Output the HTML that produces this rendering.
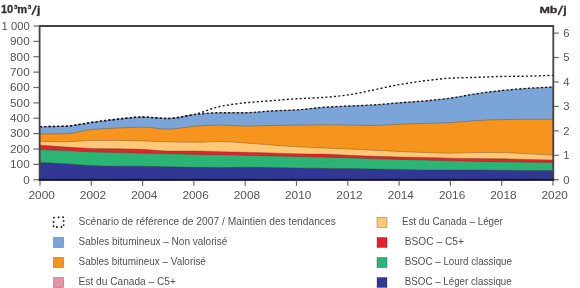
<!DOCTYPE html>
<html><head><meta charset="utf-8"><style>
html,body{margin:0;padding:0;background:#fff;}
body{width:580px;height:288px;overflow:hidden;position:relative;font-family:"Liberation Sans",sans-serif;}
svg{position:absolute;left:0;top:0;will-change:transform;}
.yl{font-size:10.3px;fill:#555;}
.xl{font-size:10.6px;fill:#555;}
.ti{font-size:10.8px;font-weight:bold;fill:#352f2d;stroke:#352f2d;stroke-width:0.3px;}
.lg{font-size:10.3px;fill:#505050;}
</style></head><body>
<svg width="580" height="288" viewBox="0 0 580 288">
<path d="M40.00,126.68 C48.55,126.53 57.10,126.49 65.65,126.22 C74.20,125.94 82.75,123.65 91.30,122.50 C99.85,121.34 108.40,120.11 116.95,119.24 C125.50,118.37 134.05,117.07 142.60,117.07 C151.15,117.07 159.70,118.47 168.25,118.47 C176.80,118.47 185.35,115.43 193.90,114.59 C202.45,113.75 211.00,112.73 219.55,112.73 C228.10,112.73 236.65,112.73 245.20,112.73 C253.75,112.73 262.30,111.47 270.85,111.03 C279.40,110.58 287.95,110.44 296.50,109.94 C305.05,109.44 313.60,108.06 322.15,107.46 C330.70,106.86 339.25,106.47 347.80,106.06 C356.35,105.66 364.90,105.46 373.45,104.98 C382.00,104.50 390.55,103.48 399.10,102.81 C407.65,102.14 416.20,101.69 424.75,100.95 C433.30,100.21 441.85,99.29 450.40,98.16 C458.95,97.03 467.50,95.06 476.05,93.82 C484.60,92.58 493.15,91.43 501.70,90.56 C510.25,89.70 518.80,88.96 527.35,88.39 C535.90,87.83 544.45,87.47 553.00,87.00 L553.00,180 L40.00,180 Z" fill="#7ba5d8" stroke="#4a3a2a" stroke-opacity="0.5" stroke-width="0.7"/>
<path d="M40.00,133.97 C48.55,133.91 57.10,133.91 65.65,133.81 C74.20,133.71 82.75,130.38 91.30,129.62 C99.85,128.87 108.40,128.46 116.95,128.07 C125.50,127.69 134.05,127.15 142.60,127.15 C151.15,127.15 159.70,129.16 168.25,129.16 C176.80,129.16 185.35,126.99 193.90,126.37 C202.45,125.75 211.00,124.97 219.55,124.97 C228.10,124.97 236.65,126.22 245.20,126.22 C253.75,126.22 262.30,125.59 270.85,125.44 C279.40,125.29 287.95,125.23 296.50,125.13 C305.05,125.03 313.60,124.82 322.15,124.82 C330.70,124.82 339.25,124.90 347.80,124.97 C356.35,125.05 364.90,125.44 373.45,125.44 C382.00,125.44 390.55,124.52 399.10,124.20 C407.65,123.88 416.20,123.68 424.75,123.42 C433.30,123.17 441.85,123.02 450.40,122.65 C458.95,122.28 467.50,121.11 476.05,120.63 C484.60,120.16 493.15,119.71 501.70,119.55 C510.25,119.39 518.80,119.24 527.35,119.24 C535.90,119.24 544.45,119.24 553.00,119.24 L553.00,180 L40.00,180 Z" fill="#f7941d" stroke="#4a3a2a" stroke-opacity="0.5" stroke-width="0.7"/>
<path d="M40.00,141.25 C48.55,141.46 57.10,141.87 65.65,141.87 C74.20,141.87 82.75,140.47 91.30,140.47 C99.85,140.47 108.40,140.47 116.95,140.47 C125.50,140.47 134.05,140.73 142.60,140.94 C151.15,141.15 159.70,141.66 168.25,141.87 C176.80,142.08 185.35,142.34 193.90,142.34 C202.45,142.34 211.00,141.56 219.55,141.56 C228.10,141.56 236.65,142.41 245.20,142.95 C253.75,143.50 262.30,144.33 270.85,144.97 C279.40,145.61 287.95,146.37 296.50,146.83 C305.05,147.29 313.60,147.55 322.15,147.91 C330.70,148.28 339.25,148.61 347.80,149.00 C356.35,149.39 364.90,149.83 373.45,150.24 C382.00,150.65 390.55,151.09 399.10,151.48 C407.65,151.87 416.20,152.30 424.75,152.56 C433.30,152.83 441.85,153.19 450.40,153.19 C458.95,153.19 467.50,152.56 476.05,152.56 C484.60,152.56 493.15,152.56 501.70,152.56 C510.25,152.56 518.80,153.39 527.35,153.81 C535.90,154.22 544.45,154.63 553.00,155.05 L553.00,180 L40.00,180 Z" fill="#fdc978" stroke="#4a3a2a" stroke-opacity="0.5" stroke-width="0.7"/>
<path d="M40.00,145.28 C48.55,145.85 57.10,146.47 65.65,146.99 C74.20,147.50 82.75,148.21 91.30,148.38 C99.85,148.55 108.40,148.55 116.95,148.69 C125.50,148.83 134.05,149.01 142.60,149.31 C151.15,149.61 159.70,151.01 168.25,151.01 C176.80,151.01 185.35,151.01 193.90,151.01 C202.45,151.01 211.00,151.43 219.55,151.63 C228.10,151.84 236.65,152.05 245.20,152.25 C253.75,152.46 262.30,152.63 270.85,152.88 C279.40,153.12 287.95,153.65 296.50,153.81 C305.05,153.96 313.60,153.95 322.15,154.12 C330.70,154.28 339.25,154.84 347.80,155.20 C356.35,155.56 364.90,156.02 373.45,156.28 C382.00,156.55 390.55,156.70 399.10,156.91 C407.65,157.11 416.20,157.32 424.75,157.53 C433.30,157.73 441.85,158.01 450.40,158.15 C458.95,158.28 467.50,158.35 476.05,158.46 C484.60,158.56 493.15,158.63 501.70,158.76 C510.25,158.90 518.80,159.18 527.35,159.38 C535.90,159.59 544.45,159.80 553.00,160.00 L553.00,180 L40.00,180 Z" fill="#e8202a" stroke="#4a3a2a" stroke-opacity="0.5" stroke-width="0.7"/>
<path d="M40.00,149.78 C48.55,150.03 57.10,150.22 65.65,150.55 C74.20,150.88 82.75,151.66 91.30,151.94 C99.85,152.23 108.40,152.36 116.95,152.56 C125.50,152.77 134.05,152.98 142.60,153.19 C151.15,153.39 159.70,153.60 168.25,153.81 C176.80,154.01 185.35,154.29 193.90,154.43 C202.45,154.56 211.00,154.60 219.55,154.74 C228.10,154.87 236.65,155.15 245.20,155.35 C253.75,155.56 262.30,155.77 270.85,155.97 C279.40,156.18 287.95,156.39 296.50,156.59 C305.05,156.80 313.60,157.01 322.15,157.22 C330.70,157.42 339.25,157.59 347.80,157.84 C356.35,158.08 364.90,158.52 373.45,158.76 C382.00,159.01 390.55,159.18 399.10,159.38 C407.65,159.59 416.20,159.78 424.75,160.00 C433.30,160.23 441.85,160.55 450.40,160.78 C458.95,161.01 467.50,161.22 476.05,161.40 C484.60,161.58 493.15,161.74 501.70,161.87 C510.25,161.99 518.80,162.07 527.35,162.18 C535.90,162.28 544.45,162.38 553.00,162.49 L553.00,180 L40.00,180 Z" fill="#2bb574" stroke="#4a3a2a" stroke-opacity="0.5" stroke-width="0.7"/>
<path d="M40.00,162.49 C48.55,162.90 57.10,163.23 65.65,163.72 C74.20,164.22 82.75,165.28 91.30,165.59 C99.85,165.90 108.40,166.21 116.95,166.21 C125.50,166.21 134.05,166.21 142.60,166.21 C151.15,166.21 159.70,166.65 168.25,166.82 C176.80,167.00 185.35,167.21 193.90,167.29 C202.45,167.37 211.00,167.44 219.55,167.44 C228.10,167.44 236.65,167.29 245.20,167.29 C253.75,167.29 262.30,167.37 270.85,167.44 C279.40,167.52 287.95,167.79 296.50,167.91 C305.05,168.03 313.60,168.12 322.15,168.22 C330.70,168.32 339.25,168.41 347.80,168.53 C356.35,168.65 364.90,168.84 373.45,169.00 C382.00,169.15 390.55,169.31 399.10,169.46 C407.65,169.62 416.20,169.93 424.75,169.93 C433.30,169.93 441.85,169.93 450.40,169.93 C458.95,169.93 467.50,169.93 476.05,169.93 C484.60,169.93 493.15,170.13 501.70,170.24 C510.25,170.34 518.80,170.54 527.35,170.54 C535.90,170.54 544.45,170.54 553.00,170.54 L553.00,180 L40.00,180 Z" fill="#323796" stroke="#4a3a2a" stroke-opacity="0.5" stroke-width="0.7"/>
<path d="M40.00,126.68 C48.55,126.53 57.10,126.49 65.65,126.22 C74.20,125.94 82.75,123.65 91.30,122.50 C99.85,121.34 108.40,120.11 116.95,119.24 C125.50,118.37 134.05,117.07 142.60,117.07 C151.15,117.07 159.70,118.47 168.25,118.47 C176.80,118.47 185.35,115.43 193.90,114.59 C202.45,113.75 211.00,112.73 219.55,112.73 C228.10,112.73 236.65,112.73 245.20,112.73 C253.75,112.73 262.30,111.47 270.85,111.03 C279.40,110.58 287.95,110.44 296.50,109.94 C305.05,109.44 313.60,108.06 322.15,107.46 C330.70,106.86 339.25,106.47 347.80,106.06 C356.35,105.66 364.90,105.46 373.45,104.98 C382.00,104.50 390.55,103.48 399.10,102.81 C407.65,102.14 416.20,101.69 424.75,100.95 C433.30,100.21 441.85,99.29 450.40,98.16 C458.95,97.03 467.50,95.06 476.05,93.82 C484.60,92.58 493.15,91.43 501.70,90.56 C510.25,89.70 518.80,88.96 527.35,88.39 C535.90,87.83 544.45,87.47 553.00,87.00" fill="none" stroke="#15152a" stroke-width="1.4" stroke-dasharray="2 2.3"/>
<path d="M40.00,126.68 C48.55,126.53 57.10,126.49 65.65,126.22 C74.20,125.94 82.75,123.65 91.30,122.50 C99.85,121.34 108.40,120.11 116.95,119.24 C125.50,118.37 134.05,117.07 142.60,117.07 C151.15,117.07 159.70,118.47 168.25,118.47 C176.80,118.47 185.35,116.33 193.90,114.59 C202.45,112.85 211.00,108.23 219.55,106.53 C228.10,104.83 236.65,103.68 245.20,102.81 C253.75,101.94 262.30,101.47 270.85,100.80 C279.40,100.12 287.95,99.29 296.50,98.78 C305.05,98.27 313.60,98.10 322.15,97.54 C330.70,96.98 339.25,96.05 347.80,94.91 C356.35,93.76 364.90,91.65 373.45,89.95 C382.00,88.24 390.55,86.16 399.10,84.67 C407.65,83.19 416.20,81.85 424.75,80.80 C433.30,79.75 441.85,78.56 450.40,78.17 C458.95,77.77 467.50,77.67 476.05,77.39 C484.60,77.11 493.15,76.61 501.70,76.46 C510.25,76.30 518.80,76.30 527.35,76.15 C535.90,76.00 544.45,75.63 553.00,75.38" fill="none" stroke="#15152a" stroke-width="1.4" stroke-dasharray="2 2.3"/>
<line x1="39.5" y1="26" x2="553.5" y2="26" stroke="#444" stroke-width="2"/>
<line x1="39.6" y1="25" x2="39.6" y2="181" stroke="#444" stroke-width="1.8"/>
<line x1="553.3" y1="25" x2="553.3" y2="181" stroke="#444" stroke-width="1.8"/>
<line x1="38.6" y1="179.8" x2="554.2" y2="179.8" stroke="#16163a" stroke-width="2"/>
<line x1="33.3" y1="179.75" x2="39" y2="179.75" stroke="#6a6a6a" stroke-width="1.2"/>
<line x1="33.3" y1="164.38" x2="39" y2="164.38" stroke="#6a6a6a" stroke-width="1.2"/>
<line x1="33.3" y1="149.00" x2="39" y2="149.00" stroke="#6a6a6a" stroke-width="1.2"/>
<line x1="33.3" y1="133.62" x2="39" y2="133.62" stroke="#6a6a6a" stroke-width="1.2"/>
<line x1="33.3" y1="118.25" x2="39" y2="118.25" stroke="#6a6a6a" stroke-width="1.2"/>
<line x1="33.3" y1="102.88" x2="39" y2="102.88" stroke="#6a6a6a" stroke-width="1.2"/>
<line x1="33.3" y1="87.50" x2="39" y2="87.50" stroke="#6a6a6a" stroke-width="1.2"/>
<line x1="33.3" y1="72.12" x2="39" y2="72.12" stroke="#6a6a6a" stroke-width="1.2"/>
<line x1="33.3" y1="56.75" x2="39" y2="56.75" stroke="#6a6a6a" stroke-width="1.2"/>
<line x1="33.3" y1="41.38" x2="39" y2="41.38" stroke="#6a6a6a" stroke-width="1.2"/>
<line x1="33.3" y1="26.00" x2="39" y2="26.00" stroke="#6a6a6a" stroke-width="1.2"/>
<line x1="553.8" y1="179.75" x2="558.8" y2="179.75" stroke="#6a6a6a" stroke-width="1.2"/>
<line x1="553.8" y1="155.31" x2="558.8" y2="155.31" stroke="#6a6a6a" stroke-width="1.2"/>
<line x1="553.8" y1="130.86" x2="558.8" y2="130.86" stroke="#6a6a6a" stroke-width="1.2"/>
<line x1="553.8" y1="106.42" x2="558.8" y2="106.42" stroke="#6a6a6a" stroke-width="1.2"/>
<line x1="553.8" y1="81.97" x2="558.8" y2="81.97" stroke="#6a6a6a" stroke-width="1.2"/>
<line x1="553.8" y1="57.53" x2="558.8" y2="57.53" stroke="#6a6a6a" stroke-width="1.2"/>
<line x1="553.8" y1="33.08" x2="558.8" y2="33.08" stroke="#6a6a6a" stroke-width="1.2"/>
<line x1="40.00" y1="180.8" x2="40.00" y2="185.8" stroke="#6a6a6a" stroke-width="1.2"/>
<line x1="91.30" y1="180.8" x2="91.30" y2="185.8" stroke="#6a6a6a" stroke-width="1.2"/>
<line x1="142.60" y1="180.8" x2="142.60" y2="185.8" stroke="#6a6a6a" stroke-width="1.2"/>
<line x1="193.90" y1="180.8" x2="193.90" y2="185.8" stroke="#6a6a6a" stroke-width="1.2"/>
<line x1="245.20" y1="180.8" x2="245.20" y2="185.8" stroke="#6a6a6a" stroke-width="1.2"/>
<line x1="296.50" y1="180.8" x2="296.50" y2="185.8" stroke="#6a6a6a" stroke-width="1.2"/>
<line x1="347.80" y1="180.8" x2="347.80" y2="185.8" stroke="#6a6a6a" stroke-width="1.2"/>
<line x1="399.10" y1="180.8" x2="399.10" y2="185.8" stroke="#6a6a6a" stroke-width="1.2"/>
<line x1="450.40" y1="180.8" x2="450.40" y2="185.8" stroke="#6a6a6a" stroke-width="1.2"/>
<line x1="501.70" y1="180.8" x2="501.70" y2="185.8" stroke="#6a6a6a" stroke-width="1.2"/>
<line x1="553.00" y1="180.8" x2="553.00" y2="185.8" stroke="#6a6a6a" stroke-width="1.2"/>
<text x="23.3" y="183.50" class="yl" textLength="6.5" lengthAdjust="spacingAndGlyphs">0</text>
<text x="10.1" y="168.12" class="yl" textLength="19.6" lengthAdjust="spacingAndGlyphs">100</text>
<text x="10.1" y="152.75" class="yl" textLength="19.6" lengthAdjust="spacingAndGlyphs">200</text>
<text x="10.1" y="137.38" class="yl" textLength="19.6" lengthAdjust="spacingAndGlyphs">300</text>
<text x="10.1" y="122.00" class="yl" textLength="19.6" lengthAdjust="spacingAndGlyphs">400</text>
<text x="10.1" y="106.62" class="yl" textLength="19.6" lengthAdjust="spacingAndGlyphs">500</text>
<text x="10.1" y="91.25" class="yl" textLength="19.6" lengthAdjust="spacingAndGlyphs">600</text>
<text x="10.1" y="75.88" class="yl" textLength="19.6" lengthAdjust="spacingAndGlyphs">700</text>
<text x="10.1" y="60.50" class="yl" textLength="19.6" lengthAdjust="spacingAndGlyphs">800</text>
<text x="10.1" y="45.12" class="yl" textLength="19.6" lengthAdjust="spacingAndGlyphs">900</text>
<text x="1.6" y="29.75" class="yl" textLength="28.1" lengthAdjust="spacingAndGlyphs">1 000</text>
<text x="563.3" y="183.50" class="yl" textLength="6.3" lengthAdjust="spacingAndGlyphs">0</text>
<text x="563.3" y="159.06" class="yl" textLength="6.3" lengthAdjust="spacingAndGlyphs">1</text>
<text x="563.3" y="134.61" class="yl" textLength="6.3" lengthAdjust="spacingAndGlyphs">2</text>
<text x="563.3" y="110.17" class="yl" textLength="6.3" lengthAdjust="spacingAndGlyphs">3</text>
<text x="563.3" y="85.72" class="yl" textLength="6.3" lengthAdjust="spacingAndGlyphs">4</text>
<text x="563.3" y="61.28" class="yl" textLength="6.3" lengthAdjust="spacingAndGlyphs">5</text>
<text x="563.3" y="36.83" class="yl" textLength="6.3" lengthAdjust="spacingAndGlyphs">6</text>
<text x="28.55" y="198.5" class="xl" textLength="26.3" lengthAdjust="spacingAndGlyphs">2000</text>
<text x="79.85" y="198.5" class="xl" textLength="26.3" lengthAdjust="spacingAndGlyphs">2002</text>
<text x="131.15" y="198.5" class="xl" textLength="26.3" lengthAdjust="spacingAndGlyphs">2004</text>
<text x="182.45" y="198.5" class="xl" textLength="26.3" lengthAdjust="spacingAndGlyphs">2006</text>
<text x="233.75" y="198.5" class="xl" textLength="26.3" lengthAdjust="spacingAndGlyphs">2008</text>
<text x="285.05" y="198.5" class="xl" textLength="26.3" lengthAdjust="spacingAndGlyphs">2010</text>
<text x="336.35" y="198.5" class="xl" textLength="26.3" lengthAdjust="spacingAndGlyphs">2012</text>
<text x="387.65" y="198.5" class="xl" textLength="26.3" lengthAdjust="spacingAndGlyphs">2014</text>
<text x="438.95" y="198.5" class="xl" textLength="26.3" lengthAdjust="spacingAndGlyphs">2016</text>
<text x="490.25" y="198.5" class="xl" textLength="26.3" lengthAdjust="spacingAndGlyphs">2018</text>
<text x="541.55" y="198.5" class="xl" textLength="26.3" lengthAdjust="spacingAndGlyphs">2020</text>
<text x="0.9" y="12.9" class="ti" textLength="12.2" lengthAdjust="spacingAndGlyphs">10</text>
<text x="13.9" y="9.2" class="ti" style="font-size:5.2px" textLength="3.5" lengthAdjust="spacingAndGlyphs">3</text>
<text x="17.3" y="12.9" class="ti" textLength="9.9" lengthAdjust="spacingAndGlyphs">m</text>
<text x="27.7" y="9.2" class="ti" style="font-size:5.2px" textLength="3.5" lengthAdjust="spacingAndGlyphs">3</text>
<line x1="32.0" y1="14.9" x2="36.3" y2="5.5" stroke="#352f2d" stroke-width="1.7"/><text x="36.9" y="13.6" class="ti" textLength="3.4" lengthAdjust="spacingAndGlyphs">j</text>
<text x="539.4" y="13.2" class="ti" style="font-size:9.8px" textLength="18.1" lengthAdjust="spacingAndGlyphs">Mb</text><line x1="558.2" y1="14.8" x2="562.5" y2="5.6" stroke="#352f2d" stroke-width="1.7"/><text x="563.2" y="13.9" class="ti" style="font-size:10.4px" textLength="3.4" lengthAdjust="spacingAndGlyphs">j</text>
<circle cx="53.90" cy="217.60" r="0.95" fill="#15152a"/><circle cx="58.60" cy="217.30" r="0.95" fill="#15152a"/><circle cx="63.05" cy="217.30" r="0.95" fill="#15152a"/><circle cx="53.60" cy="222.00" r="0.95" fill="#15152a"/><circle cx="63.60" cy="220.90" r="0.95" fill="#15152a"/><circle cx="63.60" cy="225.10" r="0.95" fill="#15152a"/><circle cx="53.60" cy="226.20" r="0.95" fill="#15152a"/><circle cx="56.90" cy="227.05" r="0.95" fill="#15152a"/><circle cx="61.40" cy="227.05" r="0.95" fill="#15152a"/><text x="78.6" y="225.1" class="lg" textLength="257.2" lengthAdjust="spacingAndGlyphs">Scénario de référence de 2007 / Maintien des tendances</text>
<rect x="53.5" y="237.5" width="10" height="10" fill="#7ba5d8" stroke="#000" stroke-opacity="0.28" stroke-width="0.9"/><text x="78.6" y="245.1" class="lg" textLength="148.7" lengthAdjust="spacingAndGlyphs">Sables bitumineux – Non valorisé</text>
<rect x="53.5" y="257.5" width="10" height="10" fill="#f7941d" stroke="#000" stroke-opacity="0.28" stroke-width="0.9"/><text x="78.6" y="265.1" class="lg" textLength="127.3" lengthAdjust="spacingAndGlyphs">Sables bitumineux – Valorisé</text>
<rect x="53.5" y="277.5" width="10" height="10" fill="#ec92a8" stroke="#000" stroke-opacity="0.28" stroke-width="0.9"/><text x="78.6" y="285.1" class="lg" textLength="97.3" lengthAdjust="spacingAndGlyphs">Est du Canada – C5+</text>
<rect x="377.0" y="217.5" width="10" height="10" fill="#fdc978" stroke="#000" stroke-opacity="0.28" stroke-width="0.9"/><text x="401.9" y="225.1" class="lg" textLength="100.9" lengthAdjust="spacingAndGlyphs">Est du Canada – Léger</text>
<rect x="377.0" y="237.5" width="10" height="10" fill="#e8202a" stroke="#000" stroke-opacity="0.28" stroke-width="0.9"/><text x="404.8" y="245.1" class="lg" textLength="59.1" lengthAdjust="spacingAndGlyphs">BSOC – C5+</text>
<rect x="377.0" y="257.5" width="10" height="10" fill="#2bb574" stroke="#000" stroke-opacity="0.28" stroke-width="0.9"/><text x="404.8" y="265.1" class="lg" textLength="107.2" lengthAdjust="spacingAndGlyphs">BSOC – Lourd classique</text>
<rect x="377.0" y="277.5" width="10" height="10" fill="#323796" stroke="#000" stroke-opacity="0.28" stroke-width="0.9"/><text x="404.8" y="285.1" class="lg" textLength="106.9" lengthAdjust="spacingAndGlyphs">BSOC – Léger classique</text>
</svg>
</body></html>
